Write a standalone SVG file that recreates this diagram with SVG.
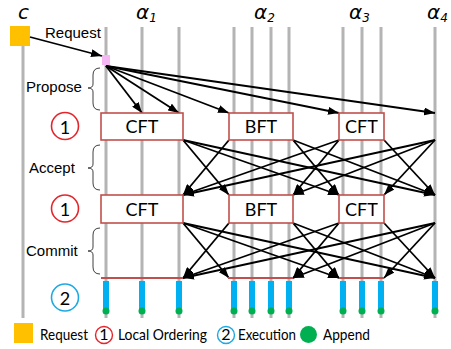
<svg xmlns="http://www.w3.org/2000/svg" width="451" height="349" viewBox="0 0 451 349">
<defs>
<marker id="ah" markerUnits="userSpaceOnUse" markerWidth="11" markerHeight="8" refX="11" refY="4" orient="auto">
<path d="M0,0 L11,4 L0,8 z" fill="#000"/>
</marker>
<style>
.life{stroke:#b4b4b4;stroke-width:3;fill:none}
.box{fill:#fff;stroke:#c0504d;stroke-width:1.6}
.bt{font-family:Lato,"Liberation Sans",sans-serif;font-size:18px;fill:#000;text-anchor:middle}
.ar{stroke:#000;stroke-width:1.8;fill:none;marker-end:url(#ah)}
.brace{stroke:#404040;stroke-width:1;fill:none}
.ph{font-family:"Liberation Sans",Arial,sans-serif;font-size:15px;fill:#000}
.lg{font-family:Lato,"Liberation Sans",sans-serif;font-size:16px;fill:#000}
.ttl{font-family:"DejaVu Sans",sans-serif;font-style:italic;fill:#000}
.exec{fill:#00b0f0}
.app{fill:#00b050}
.rl{stroke:#c0504d;stroke-width:2}
</style>
</defs>
<g id="titles">
<text class="ttl" x="18" y="19" font-size="20">c</text>
<text class="ttl" x="136" y="19" font-size="20">α<tspan font-size="12" dy="3">1</tspan></text>
<text class="ttl" x="254" y="19" font-size="20">α<tspan font-size="12" dy="3">2</tspan></text>
<text class="ttl" x="349" y="19" font-size="20">α<tspan font-size="12" dy="3">3</tspan></text>
<text class="ttl" x="427" y="19" font-size="20">α<tspan font-size="12" dy="3">4</tspan></text>
</g>
<g id="lifelines">
<line class="life" x1="23" y1="46" x2="23" y2="318"/>
<line class="life" x1="106" y1="27" x2="106" y2="318"/>
<line class="life" x1="142" y1="27" x2="142" y2="318"/>
<line class="life" x1="179" y1="27" x2="179" y2="318"/>
<line class="life" x1="234" y1="27" x2="234" y2="318"/>
<line class="life" x1="252" y1="27" x2="252" y2="318"/>
<line class="life" x1="271" y1="27" x2="271" y2="318"/>
<line class="life" x1="289" y1="27" x2="289" y2="318"/>
<line class="life" x1="343" y1="27" x2="343" y2="318"/>
<line class="life" x1="362" y1="27" x2="362" y2="318"/>
<line class="life" x1="381" y1="27" x2="381" y2="318"/>
<line class="life" x1="435" y1="27" x2="435" y2="318"/>
</g>
<g id="client"><rect x="10" y="26" width="20" height="20" fill="#ffc000"/></g>
<g id="request-point"><rect x="102" y="55" width="8" height="10" fill="#f5b8f5"/></g>
<g id="phases">
<path class="brace" d="M100,68 Q93,68 93,75 L93,84 Q93,88 88,88 Q93,88 93,92 L93,103 Q93,110 100,110"/>
<text class="ph" x="26" y="92">Propose</text>
<path class="brace" d="M100,145 Q93,145 93,152 L93,164 Q93,168 88,168 Q93,168 93,172 L93,183 Q93,190 100,190"/>
<text class="ph" x="29" y="173">Accept</text>
<path class="brace" d="M100,228 Q93,228 93,235 L93,247 Q93,251 88,251 Q93,251 93,255 L93,267 Q93,274 100,274"/>
<text class="ph" x="26" y="256">Commit</text>
</g>
<g id="step-markers">
<circle cx="65" cy="126" r="13.5" fill="#fff" stroke="#e3262b" stroke-width="1.6"/>
<text class="bt" x="65" y="133.5" font-size="20">1</text>
<circle cx="65" cy="208.5" r="13.5" fill="#fff" stroke="#e3262b" stroke-width="1.6"/>
<text class="bt" x="65" y="216" font-size="20">1</text>
<circle cx="65" cy="297.5" r="13.5" fill="#fff" stroke="#1ea9e1" stroke-width="1.6"/>
<text class="bt" x="65" y="305" font-size="20">2</text>
</g>
<g id="connectors">
<line class="ar" x1="30" y1="37" x2="102" y2="56"/>
<text class="ph" x="45" y="38" font-size="14">Request</text>
<line class="ar" x1="106" y1="66" x2="142" y2="113"/>
<line class="ar" x1="106" y1="66" x2="179" y2="113"/>
<line class="ar" x1="106" y1="66" x2="229" y2="113"/>
<line class="ar" x1="106" y1="66" x2="339" y2="113"/>
<line class="ar" x1="106" y1="66" x2="435" y2="113"/>
<line class="ar" x1="183" y1="140" x2="229" y2="195"/>
<line class="ar" x1="183" y1="140" x2="339" y2="195"/>
<line class="ar" x1="183" y1="140" x2="435" y2="195"/>
<line class="ar" x1="229" y1="140" x2="183" y2="195"/>
<line class="ar" x1="293" y1="140" x2="339" y2="195"/>
<line class="ar" x1="293" y1="140" x2="435" y2="195"/>
<line class="ar" x1="339" y1="140" x2="183" y2="195"/>
<line class="ar" x1="339" y1="140" x2="293" y2="195"/>
<line class="ar" x1="384" y1="140" x2="435" y2="195"/>
<line class="ar" x1="435" y1="140" x2="183" y2="195"/>
<line class="ar" x1="435" y1="140" x2="293" y2="195"/>
<line class="ar" x1="435" y1="140" x2="384" y2="195"/>
<line class="ar" x1="183" y1="223" x2="229" y2="278"/>
<line class="ar" x1="183" y1="223" x2="339" y2="278"/>
<line class="ar" x1="183" y1="223" x2="435" y2="278"/>
<line class="ar" x1="229" y1="223" x2="183" y2="278"/>
<line class="ar" x1="293" y1="223" x2="339" y2="278"/>
<line class="ar" x1="293" y1="223" x2="435" y2="278"/>
<line class="ar" x1="339" y1="223" x2="183" y2="278"/>
<line class="ar" x1="339" y1="223" x2="293" y2="278"/>
<line class="ar" x1="384" y1="223" x2="435" y2="278"/>
<line class="ar" x1="435" y1="223" x2="183" y2="278"/>
<line class="ar" x1="435" y1="223" x2="293" y2="278"/>
<line class="ar" x1="435" y1="223" x2="384" y2="278"/>
</g>
<g id="a1-order1"><rect class="box" x="101" y="113" width="82" height="27"/><text class="bt" x="142" y="133">CFT</text></g>
<g id="a2-order1"><rect class="box" x="229" y="113" width="64" height="27"/><text class="bt" x="261" y="133">BFT</text></g>
<g id="a3-order1"><rect class="box" x="339" y="113" width="45" height="27"/><text class="bt" x="361.5" y="133">CFT</text></g>
<g id="a1-order2"><rect class="box" x="101" y="195" width="82" height="28"/><text class="bt" x="142" y="216">CFT</text></g>
<g id="a2-order2"><rect class="box" x="229" y="195" width="64" height="28"/><text class="bt" x="261" y="216">BFT</text></g>
<g id="a3-order2"><rect class="box" x="339" y="195" width="45" height="28"/><text class="bt" x="361.5" y="216">CFT</text></g>
<g id="commit-lines">
<line class="rl" x1="101" y1="278" x2="183" y2="278"/>
<line class="rl" x1="228" y1="278" x2="293" y2="278"/>
<line class="rl" x1="339" y1="278" x2="384" y2="278"/>
</g>
<g id="execution">
<rect class="exec" x="103" y="281" width="6" height="29"/><circle class="app" cx="106" cy="311" r="3.5"/>
<rect class="exec" x="139" y="281" width="6" height="29"/><circle class="app" cx="142" cy="311" r="3.5"/>
<rect class="exec" x="176" y="281" width="6" height="29"/><circle class="app" cx="179" cy="311" r="3.5"/>
<rect class="exec" x="231" y="281" width="6" height="29"/><circle class="app" cx="234" cy="311" r="3.5"/>
<rect class="exec" x="249" y="281" width="6" height="29"/><circle class="app" cx="252" cy="311" r="3.5"/>
<rect class="exec" x="268" y="281" width="6" height="29"/><circle class="app" cx="271" cy="311" r="3.5"/>
<rect class="exec" x="286" y="281" width="6" height="29"/><circle class="app" cx="289" cy="311" r="3.5"/>
<rect class="exec" x="340" y="281" width="6" height="29"/><circle class="app" cx="343" cy="311" r="3.5"/>
<rect class="exec" x="359" y="281" width="6" height="29"/><circle class="app" cx="362" cy="311" r="3.5"/>
<rect class="exec" x="378" y="281" width="6" height="29"/><circle class="app" cx="381" cy="311" r="3.5"/>
<rect class="exec" x="432" y="281" width="6" height="29"/><circle class="app" cx="435" cy="311" r="3.5"/>
</g>
<g id="legend">
<rect x="14" y="323" width="19" height="20" fill="#ffc000"/>
<text class="lg" x="40" y="340" textLength="48" lengthAdjust="spacingAndGlyphs">Request</text>
<circle cx="104" cy="335" r="8.5" fill="#fff" stroke="#e3262b" stroke-width="1.4"/>
<text class="lg" x="104" y="340" text-anchor="middle" font-size="14">1</text>
<text class="lg" x="118" y="340" textLength="89" lengthAdjust="spacingAndGlyphs">Local Ordering</text>
<circle cx="226" cy="335" r="8.5" fill="#fff" stroke="#1ea9e1" stroke-width="1.4"/>
<text class="lg" x="226" y="340" text-anchor="middle" font-size="14">2</text>
<text class="lg" x="238" y="340" textLength="58" lengthAdjust="spacingAndGlyphs">Execution</text>
<circle cx="308.5" cy="334.5" r="8.5" fill="#00b050"/>
<text class="lg" x="323" y="340" textLength="47" lengthAdjust="spacingAndGlyphs">Append</text>
</g>
</svg>
